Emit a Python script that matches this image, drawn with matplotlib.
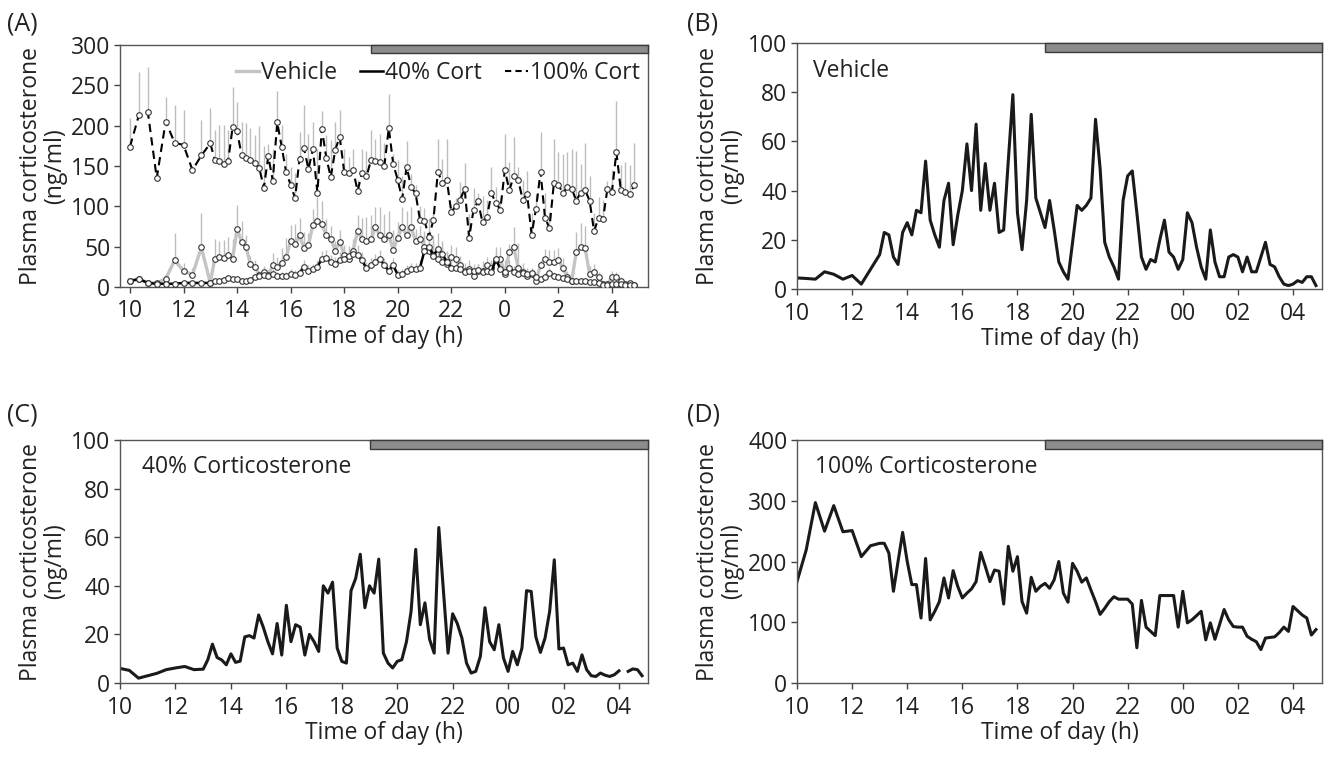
import numpy as np
import matplotlib.pyplot as plt
import matplotlib.transforms as mtransforms
from matplotlib.patches import Rectangle

plt.rcParams['font.family'] = ['Open Sans', 'DejaVu Sans']

# sampling schedule: every 20 min until 13:00, then every 10 min until 04:50
hours = np.concatenate([np.linspace(10, 13, 10), np.linspace(13 + 1/6, 28 + 5/6, 95)])

# (A) group means and upper error bars
veh_mean = [8, 10, 5, 5, 10, 33, 20, 15, 49, 5,
            35, 37, 36, 40, 35, 72, 56, 50, 28, 25,
            15, 18, 15, 27, 25, 30, 37, 57, 53, 64,
            48, 52, 77, 82, 78, 64, 60, 45,
            56, 40, 35, 45, 69, 60, 57, 59, 74, 64,
            60, 64, 46, 61, 74, 64, 74, 57, 60, 50,
            45, 40, 35, 31, 29, 37, 35, 27, 20, 22,
            14, 20, 20, 27, 24, 33, 35, 16, 43, 49,
            24, 18, 14, 16, 8, 27, 35, 31, 31, 33,
            24, 12, 8, 43, 49, 48, 16, 18, 12, 4,
            4, 12, 12, 8, 4, 5, 3]
veh_err = [3, 3, 2, 2, 3, 34, 10, 8, 43, 3,
           25, 20, 22, 22, 25, 30, 26, 15, 10, 8,
           5, 8, 6, 15, 12, 18, 24, 20, 25, 22,
           20, 15, 20, 30, 28, 20, 15, 12,
           15, 12, 10, 15, 20, 25, 30, 30, 25, 35,
           30, 30, 25, 20, 25, 30, 25, 15, 15, 20,
           25, 25, 18, 20, 15, 15, 15, 12, 10, 12,
           10, 8, 12, 10, 10, 12, 15, 18, 10, 25,
           30, 12, 10, 8, 6, 5, 12, 15, 15, 15,
           12, 8, 5, 25, 30, 28, 10, 10, 6, 3,
           3, 8, 6, 4, 3, 3, 2]
c40_mean = [7, 10, 5, 4, 4, 4, 5, 5, 5, 5,
            8, 8, 9, 11, 10, 10, 8, 8, 9, 12,
            14, 15, 14, 16, 14, 14, 13, 16, 15, 17,
            25, 20, 22, 25, 35, 36, 31, 29,
            33, 35, 39, 41, 40, 33, 23, 27, 31, 35,
            27, 20, 27, 15, 16, 20, 22, 22, 24, 45,
            49, 39, 47, 41, 31, 24, 24, 22, 18, 20,
            20, 21, 18, 20, 18, 35, 22, 18, 24, 19,
            16, 17, 16, 17, 12, 10, 12, 17, 13, 12,
            11, 10, 8, 7, 7, 7, 6, 6, 5, 3,
            3, 4, 4, 4, 3, 3, 2]
c40_err = [3, 3, 2, 2, 2, 2, 2, 2, 2, 2,
           3, 3, 3, 4, 3, 3, 3, 3, 3, 4,
           5, 5, 5, 6, 5, 5, 5, 6, 6, 6,
           8, 7, 7, 8, 10, 10, 9, 8,
           10, 12, 12, 12, 12, 10, 8, 9, 10, 11,
           9, 7, 9, 6, 6, 7, 8, 8, 9, 20,
           22, 18, 20, 16, 12, 9, 9, 8, 7, 8,
           8, 8, 7, 8, 7, 14, 9, 7, 9, 7,
           6, 6, 6, 6, 5, 4, 5, 6, 5, 5,
           4, 4, 3, 3, 3, 3, 3, 3, 2, 2,
           2, 2, 2, 2, 2, 2, 1]
c100_mean = [174, 213, 217, 135, 205, 179, 176, 145, 163, 178,
             158, 156, 152, 156, 198, 193, 164, 160, 157, 154,
             147, 123, 162, 132, 204, 174, 142, 127, 110, 159,
             172, 146, 171, 117, 196, 160, 136, 170,
             186, 143, 141, 145, 119, 141, 137, 157, 156, 155,
             150, 197, 152, 133, 109, 149, 124, 116, 83, 82,
             62, 83, 143, 129, 133, 93, 100, 108, 122, 61,
             96, 106, 80, 87, 116, 104, 96, 145, 120, 137,
             133, 108, 115, 65, 97, 143, 86, 73, 129, 127,
             116, 124, 122, 107, 117, 120, 107, 69, 86, 84,
             122, 118, 167, 120, 118, 115, 126]
c100_err = [35, 53, 56, 5, 30, 47, 43, 5, 44, 44,
            36, 45, 49, 38, 50, 36, 40, 43, 40, 34,
            53, 52, 15, 39, 39, 27, 23, 22, 31, 33,
            54, 44, 33, 54, 22, 28, 46, 34,
            34, 28, 20, 26, 14, 30, 32, 37, 28, 35,
            28, 42, 13, 24, 29, 32, 16, 10, 17, 16,
            23, 9, 41, 30, 51, 7, 10, 22, 32, 29,
            27, 10, 33, 21, 33, 20, 11, 45, 35, 49,
            16, 25, 29, 27, 18, 49, 31, 20, 55, 40,
            49, 43, 49, 62, 36, 59, 30, 23, 25, 24,
            10, 27, 64, 31, 37, 36, 53]

# (B)-(D) single animals
veh_single = [4.5, 4.3, 4, 7, 6, 4, 5.5, 2, 8, 14,
              23, 22, 13, 10, 23, 27, 22, 32, 31, 52,
              28, 22, 17, 36, 43, 18, 30, 40, 59, 40,
              67, 32, 51, 32, 43, 23, 24, 52, 79,
              31, 16, 36, 71, 37, 31, 25, 36, 24, 11,
              7, 4, 19, 34, 32, 34, 37, 69, 49, 19,
              13, 9, 4, 36, 46, 48, 31, 13, 8, 12,
              11, 20, 28, 15, 13, 8, 12, 31, 27, 17,
              9, 4, 24, 11, 5, 5, 13, 14, 13, 7,
              13, 7, 7, 13, 19, 10, 9, 5, 2, 1.4,
              2, 3.4, 2.7, 5, 5, 1.4]
c40_single = [6, 5.2, 2, 3, 4, 5.5, 6.2, 6.8, 5.5, 5.7,
              9.6, 16, 10.5, 9.5, 7.5, 12, 8.5, 9, 19, 19.5,
              18.5, 28, 23, 17, 12, 24.5, 11.5, 32, 17, 24,
              23, 11.5, 20, 17, 13, 40, 37,
              41.5, 14.4, 8.9, 8.2, 38, 43, 53, 31, 40, 37,
              51, 12.3, 8.2, 6.2, 8.9, 9.6, 17, 29.5, 55, 24,
              33, 18, 12.3, 64, 38, 12.3, 28.5,
              24.5, 18.5, 8.2, 4.1, 4.8, 11, 31, 17, 13.7, 24,
              10.3, 4.8, 13, 7.5, 14.4, 38, 37.7, 19, 12.6, 18.5,
              29.5, 50.7, 14, 14.4, 7.5, 8.2, 4.8, 11.6, 5.5, 3,
              2.7, 4.1, 3.2, 2.7, 3.4, 5, np.nan, 4.8, 5.8, 5.5,
              3]
c100_single = [167, 219, 297, 250, 292, 249, 251, 208, 226, 230,
               230, 214, 151, 200, 248, 200, 162, 162, 107, 205,
               104, 118, 134, 173, 140, 185, 159, 140, 148, 155,
               167, 215, 192, 167, 186, 184, 130, 225, 184,
               208, 134, 115, 174, 151, 159, 164, 156, 170, 200,
               148, 133, 197, 184, 166, 173, 153, 134, 113, 123,
               134, 142, 138, 138, 138, 130, 58, 136, 92, 85,
               78, 144, 144, 144, 144, 92, 151, 99, 104, 111,
               118, 71, 99, 72, 96, 121, 104, 93, 92, 92,
               77, 72, 68, 55, 74, 75, 76, 83, 92, 85,
               126, 119, 112, 107, 79, 88]

ticks = [10, 12, 14, 16, 18, 20, 22, 24, 26, 28]
labels_a = ['10', '12', '14', '16', '18', '20', '22', '0', '2', '4']
labels_bcd = ['10', '12', '14', '16', '18', '20', '22', '00', '02', '04']
dark_start = 19
fs = 16.5

fig = plt.figure(figsize=(13.31, 7.6), dpi=100)
ax_a = fig.add_axes([0.0902, 0.6224, 0.3967, 0.3184])
ax_b = fig.add_axes([0.5988, 0.6197, 0.3944, 0.3237])
ax_c = fig.add_axes([0.0902, 0.1013, 0.3967, 0.3197])
ax_d = fig.add_axes([0.5988, 0.1013, 0.3944, 0.3197])


def style(ax, xlim, ymax, ystep, xlabels):
    ax.set_xlim(*xlim)
    ax.set_ylim(0, ymax)
    ax.set_yticks(np.arange(0, ymax + 1, ystep))
    ax.set_xticks(ticks)
    ax.set_xticklabels(xlabels)
    ax.tick_params(labelsize=fs, length=4, width=1, color='#444444',
                   labelcolor='#222222')
    ax.tick_params(axis='x', pad=5)
    ax.tick_params(axis='y', pad=3)
    for s in ax.spines.values():
        s.set_color('#555555')
        s.set_linewidth(1)
    ax.set_xlabel('Time of day (h)', fontsize=fs, labelpad=1, color='#222222')
    ax.set_ylabel('Plasma corticosterone\n(ng/ml)', fontsize=fs, labelpad=3,
                  linespacing=1.0, color='#222222')
    trans = mtransforms.blended_transform_factory(ax.transData, ax.transAxes)
    ax.add_patch(Rectangle((dark_start, 0.965), xlim[1] - dark_start, 0.035,
                           transform=trans, facecolor='#8c8c8c', edgecolor='#3a3a3a',
                           lw=1, clip_on=False, zorder=5))


mk = dict(marker='o', ms=4, mfc='white', mec='#333333', mew=0.8)

# (A)
ax_a.vlines(hours, c100_mean, np.add(c100_mean, c100_err), color='#bdbdbd', lw=1, zorder=1)
ax_a.vlines(hours, veh_mean, np.add(veh_mean, veh_err), color='#bdbdbd', lw=1, zorder=1)
ax_a.vlines(hours, c40_mean, np.add(c40_mean, c40_err), color='#bdbdbd', lw=1, zorder=1)
ax_a.plot(hours, veh_mean, color='#c4c4c4', lw=2.4, zorder=2, **mk)
ax_a.plot(hours, c40_mean, color='black', lw=1.8, zorder=3, **mk)
ax_a.plot(hours, c100_mean, color='black', lw=1.5, dashes=(4, 2.5), zorder=3, **mk)
h1, = ax_a.plot([], [], color='#c4c4c4', lw=2.4)
h2, = ax_a.plot([], [], color='black', lw=1.8)
h3, = ax_a.plot([], [], color='black', lw=1.5, dashes=(3, 2))
ax_a.legend([h1, h2, h3], ['Vehicle', '40% Cort', '100% Cort'], loc='center right',
            bbox_to_anchor=(0.985, 0.885), ncol=3, frameon=False, fontsize=fs,
            handlelength=1.0, handletextpad=0.1, columnspacing=1.0,
            borderaxespad=0, borderpad=0, labelcolor='#222222')
style(ax_a, (9.63, 29.35), 300, 50, labels_a)

# (B)-(D)
ax_b.plot(hours, veh_single, color='#1a1a1a', lw=2.2)
style(ax_b, (10, 29.05), 100, 20, labels_bcd)
ax_b.text(0.03, 0.885, 'Vehicle', transform=ax_b.transAxes, fontsize=fs,
          va='center', color='#222222')

ax_c.plot(hours, c40_single, color='#1a1a1a', lw=2.2)
style(ax_c, (10, 29.05), 100, 20, labels_bcd)
ax_c.text(0.042, 0.89, '40% Corticosterone', transform=ax_c.transAxes, fontsize=fs,
          va='center', color='#222222')

ax_d.plot(hours, c100_single, color='#1a1a1a', lw=2.2)
style(ax_d, (10, 29.05), 400, 100, labels_bcd)
ax_d.text(0.034, 0.89, '100% Corticosterone', transform=ax_d.transAxes, fontsize=fs,
          va='center', color='#222222')

for x, y, lab in [(0.005, 0.968, '(A)'), (0.516, 0.968, '(B)'),
                  (0.005, 0.454, '(C)'), (0.516, 0.454, '(D)')]:
    fig.text(x, y, lab, fontsize=18, va='center', ha='left', color='#222222')

plt.savefig('out.png', dpi=100)
